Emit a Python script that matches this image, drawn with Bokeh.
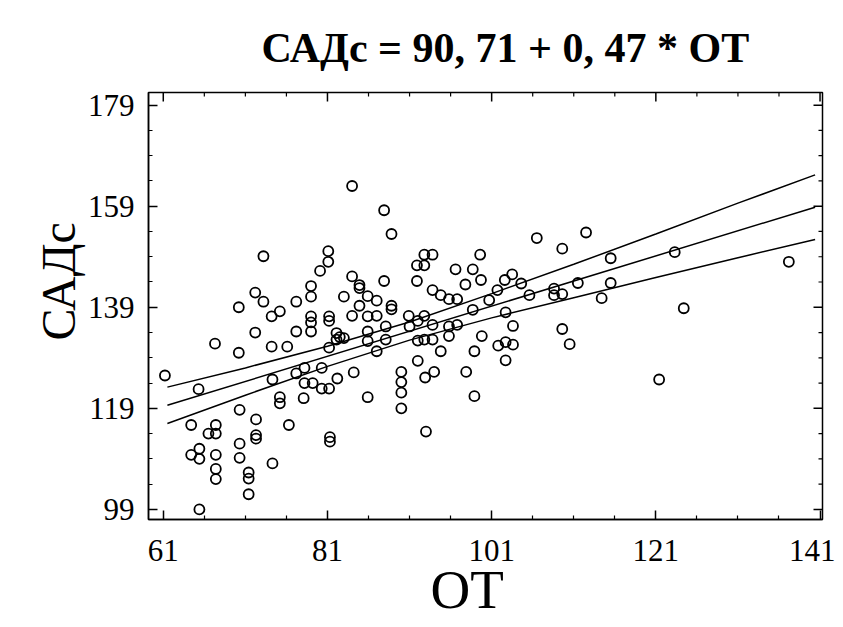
from bokeh.plotting import figure
from bokeh.models import Range1d, Title
from bokeh.embed import file_html
from bokeh.resources import INLINE

# ---- data ----
ot = [84.0, 87.9, 88.8, 73.2, 81.1, 81.1, 80.1, 79.0, 79.0, 77.2, 72.2, 73.2, 70.2, 75.2,
      84.0, 84.9, 84.9, 83.0, 85.9, 87.0, 84.9, 87.9, 88.8, 88.8, 91.9, 91.9, 92.8, 92.8, 93.8,
      93.8, 94.8, 95.8, 96.8, 96.6, 98.7, 97.8, 99.6, 99.7, 98.7,
      106.5, 112.5, 109.6, 115.5, 123.3, 137.2, 102.6, 103.5, 101.7, 104.6, 100.7, 105.6,
      108.6, 108.6, 109.6, 111.5, 115.5, 114.4, 124.4, 102.7,
      103.6, 99.8, 101.8, 102.7, 103.6, 102.7, 109.6, 110.5, 121.4,
      74.2, 79.0, 79.0, 79.0, 81.2, 81.2, 72.2, 77.2, 84.0, 85.9, 85.9, 87.0, 88.1, 90.9, 92.8,
      91.0, 92.0, 93.8, 95.8, 95.8, 96.8, 98.9, 97.9, 98.9, 67.3, 70.2, 74.2, 76.1,
      82.1, 82.5, 83.0, 82.1, 81.2, 85.9, 87.0, 88.1, 92.0, 92.8, 93.8, 94.8, 92.0,
      61.2, 65.3, 74.3, 77.2, 78.2, 80.3, 82.2, 84.2, 78.2, 79.2, 80.3, 81.2, 75.2, 75.2, 78.1,
      85.9, 90.0, 90.0, 90.0, 90.0, 92.9, 94.0, 93.0, 70.3, 72.3, 64.4, 67.4, 67.4, 66.5, 76.3,
      72.3, 72.3, 70.3, 81.3, 81.3, 65.4, 64.4, 65.4, 67.4, 70.3, 74.3, 67.4, 67.4, 71.4, 71.4,
      71.4, 65.4]
sadc = [163.0, 158.2, 153.5, 149.1, 150.1, 148.0, 146.2, 143.2, 141.1, 140.1, 141.9, 140.1, 139.0, 138.2,
        145.1, 143.4, 142.8, 141.1, 141.2, 140.3, 139.3, 144.2, 139.3, 138.6, 144.2, 147.3, 147.3, 149.4, 149.4,
        142.4, 141.4, 140.6, 140.6, 146.5, 146.5, 143.5, 149.4, 144.4, 138.5,
        152.7, 153.8, 150.6, 148.7, 149.9, 148.0, 144.4, 145.5, 142.4, 143.7, 140.4, 141.4,
        142.7, 141.4, 141.6, 143.8, 143.8, 140.8, 138.8, 138.0,
        135.3, 133.3, 131.4, 132.1, 131.6, 128.5, 134.7, 131.7, 124.7,
        137.2, 137.2, 136.0, 134.2, 137.2, 136.3, 134.0, 134.2, 137.3, 137.2, 134.2, 137.3, 135.2, 137.3, 137.3,
        135.2, 136.3, 135.5, 135.2, 133.3, 135.5, 130.3, 126.2, 121.4, 131.8, 130.0, 131.2, 131.2,
        133.9, 133.1, 132.9, 132.6, 131.0, 132.3, 130.3, 132.6, 132.4, 132.6, 132.6, 130.3, 128.4,
        125.5, 122.8, 124.7, 125.9, 127.0, 127.0, 124.9, 126.1, 124.0, 124.0, 122.9, 122.9, 121.2, 120.0, 121.0,
        121.2, 126.2, 124.2, 122.1, 119.0, 125.1, 126.2, 114.4, 118.7, 116.8, 115.7, 115.7, 114.0, 114.0, 115.7,
        113.7, 113.0, 112.0, 113.3, 112.4, 111.0, 109.8, 109.0, 109.8, 109.2, 108.1, 107.0, 105.0, 106.3, 105.1,
        102.0, 99.0]

fit_x = [61.5, 140.4]
fit_y = [119.6, 158.8]
band_x = [61.5, 71, 81, 91, 101, 111, 121, 131, 140.4]
band_upper = [123.2, 127.0, 131.3, 136.1, 141.7, 147.5, 153.5, 159.6, 165.2]
band_lower = [116.0, 121.6, 127.3, 132.5, 136.9, 140.9, 144.9, 148.8, 152.4]

x_ticks = [61, 81, 101, 121, 141]
y_ticks = [99, 119, 139, 159, 179]
x_minor = [66, 71, 76, 86, 91, 96, 106, 111, 116, 126, 131, 136]
y_minor = [104, 109, 114, 124, 129, 134, 144, 149, 154, 164, 169, 174]

title_text = "САДс = 90, 71 + 0, 47 * ОТ"
x_label = "ОТ"
y_label = "САДс"

SERIF = "Liberation Serif"
X0, X1 = 59.2, 141.3
Y0, Y1 = 97.0, 181.5
FW, FH = 674, 427

p = figure(frame_width=FW, frame_height=FH, output_backend="svg", toolbar_location=None,
           x_range=Range1d(X0, X1), y_range=Range1d(Y0, Y1),
           min_border_left=148, min_border_right=13, min_border_top=91, min_border_bottom=109,
           title=title_text)
p.grid.visible = False
p.outline_line_color = "black"
p.outline_line_width = 1.5
p.background_fill_color = "white"
p.border_fill_color = "white"

p.title.text_font = SERIF
p.title.text_font_size = "42px"
p.title.text_font_style = "bold"
p.title.text_color = "black"
p.title.align = "left"
p.title.offset = 113
p.title.standoff = 44

def style_axis(ax, ticks, minor):
    ax.ticker = ticks
    ax.ticker.minor_ticks = minor
    ax.axis_line_color = "black"
    ax.axis_line_width = 1.5
    ax.major_tick_in = 9
    ax.major_tick_out = 0
    ax.minor_tick_in = 4
    ax.minor_tick_out = 0
    ax.major_tick_line_color = "black"
    ax.major_tick_line_width = 1.5
    ax.minor_tick_line_color = "black"
    ax.minor_tick_line_width = 1.2
    ax.major_label_text_font = SERIF
    ax.major_label_text_font_size = "31px"
    ax.major_label_text_color = "black"

xa = p.xaxis[0]
style_axis(xa, x_ticks, x_minor)
xa.major_label_standoff = 20

ya = p.yaxis[0]
style_axis(ya, y_ticks, y_minor)
ya.major_label_standoff = 14
ya.major_label_orientation = "horizontal"

# axis titles as side titles so they can be positioned along the axis
xt = Title(text=x_label, align="left", offset=282, standoff=-13,
           text_font=SERIF, text_font_size="55px", text_font_style="normal", text_color="black")
p.add_layout(xt, "below")
yt = Title(text=y_label, align="left", offset=179, standoff=0,
           text_font=SERIF, text_font_size="48px", text_font_style="normal", text_color="black")
p.add_layout(yt, "left")

# mirrored tick marks on the top and right edges of the frame
ux = (X1 - X0) / FW   # data units per pixel (x)
uy = (Y1 - Y0) / FH   # data units per pixel (y)
p.segment(x0=x_ticks, y0=[Y1] * len(x_ticks), x1=x_ticks, y1=[Y1 - 9 * uy] * len(x_ticks),
          line_color="black", line_width=1.5)
p.segment(x0=x_minor, y0=[Y1] * len(x_minor), x1=x_minor, y1=[Y1 - 4 * uy] * len(x_minor),
          line_color="black", line_width=1.2)
p.segment(x0=[X1] * len(y_ticks), y0=y_ticks, x1=[X1 - 9 * ux] * len(y_ticks), y1=y_ticks,
          line_color="black", line_width=1.5)
p.segment(x0=[X1] * len(y_minor), y0=y_minor, x1=[X1 - 4 * ux] * len(y_minor), y1=y_minor,
          line_color="black", line_width=1.2)

p.line(fit_x, fit_y, line_color="black", line_width=1.5)
p.line(band_x, band_upper, line_color="black", line_width=1.5)
p.line(band_x, band_lower, line_color="black", line_width=1.5)
p.scatter(ot, sadc, marker="circle", size=10, fill_color=None, line_color="black", line_width=1.8)

open("out.html", "w").write(file_html(p, INLINE))
